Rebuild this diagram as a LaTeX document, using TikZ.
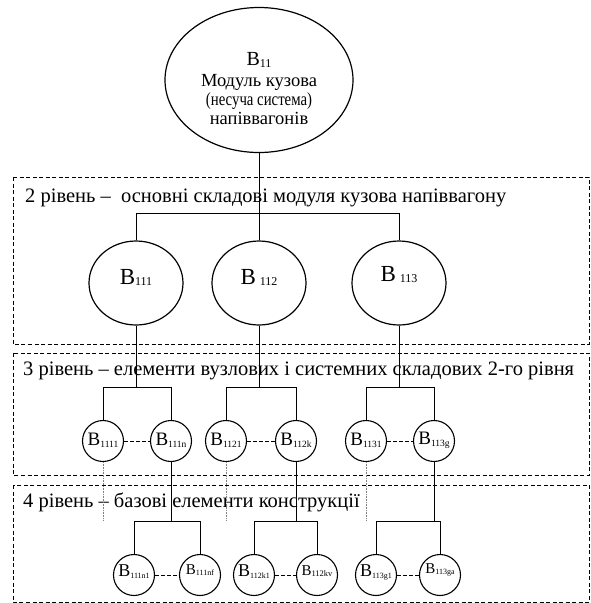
\documentclass[tikz,border=0pt]{standalone}
\usepackage{fontspec}
\usepackage{graphicx}
\setmainfont{Liberation Serif}
\usetikzlibrary{shapes.geometric}
\newcommand{\mylab}[4]{{\fontsize{#1}{#1}\selectfont B}\raisebox{#3}{\fontsize{#2}{#2}\selectfont #4}}
\begin{document}
\begin{tikzpicture}[x=1pt,y=-1pt,
 line/.style={line width=1pt},
 topell/.style={draw, line width=1.2pt, ellipse, minimum width=188pt, minimum height=145pt, inner sep=0pt},
 bigc/.style={draw, line width=1.2pt, ellipse, minimum width=94pt, minimum height=84pt, inner sep=0pt},
 smc/.style={draw, line width=1.1pt, circle, minimum size=41pt, inner sep=0pt},
 lvlbox/.style={draw, dash pattern=on 4pt off 2.5pt, line width=0.7pt},
 dashlink/.style={dash pattern=on 3.5pt off 2.5pt, line width=0.8pt},
 dotlink/.style={gray, dash pattern=on 0.8pt off 0.8pt, line width=0.8pt},
 lvltext/.style={anchor=base west, inner sep=0pt, font=\fontsize{20.5}{24}\selectfont},
 toptext/.style={anchor=base, inner sep=0pt, font=\fontsize{18.5}{22}\selectfont},
 clab/.style={inner sep=0pt},
]
\useasboundingbox (0,0) rectangle (591,603);

% level boxes
\draw[lvlbox] (13,177) rectangle (589,344);
\draw[lvlbox] (13,353) rectangle (589,475);
\draw[lvlbox] (13,485) rectangle (589,602);

\node[lvltext] (t2) at (25,202) {2 рівень –\ \ основні складові модуля кузова напіввагону};
\node[lvltext] (t3) at (23,375) {3 рівень – елементи вузлових і системних складових 2-го рівня};
\node[lvltext] (t4) at (23,507) {4 рівень – базові елементи конструкції};

% top ellipse
\node[topell] (top) at (259,80) {};
\node[toptext] (tl1) at (259,65) {\mylab{20}{12}{-2pt}{11}};
\node[toptext] (tl2) at (259,86) {Модуль кузова};
\node[toptext] (tl3) at (259,105) {\scalebox{0.8}[1]{(несуча система)}};
\node[toptext] (tl4) at (259,124) {напіввагонів};

% level 2
\node[bigc] (c2a) at (136,283) {};
\node[bigc] (c2b) at (259,283) {};
\node[bigc] (c2c) at (399,283) {};
\node[clab] (l2a) at ([yshift=6pt]c2a.center) {\mylab{23}{12}{-1pt}{111}};
\node[clab] (l2b) at ([yshift=6pt]c2b.center) {\mylab{23}{12}{-1pt}{\hspace{4pt}112}};
\node[clab] (l2c) at ([yshift=8pt]c2c.center) {\mylab{23}{12}{-1pt}{\hspace{4pt}113}};

% level 3
\node[smc] (c3a) at (103,441) {};
\node[smc] (c3b) at (171,441) {};
\node[smc] (c3c) at (226,441) {};
\node[smc] (c3d) at (296,441) {};
\node[smc] (c3e) at (366,441) {};
\node[smc] (c3f) at (434,441) {};
\node[clab] (l3a) at ([yshift=1pt]c3a.center) {\mylab{19}{9.5}{-2pt}{1111}};
\node[clab] (l3b) at ([yshift=1pt]c3b.center) {\mylab{19}{9.5}{-2pt}{111n}};
\node[clab] (l3c) at ([yshift=1pt]c3c.center) {\mylab{19}{9.5}{-2pt}{1121}};
\node[clab] (l3d) at ([yshift=1pt]c3d.center) {\mylab{19}{9.5}{-2pt}{112k}};
\node[clab] (l3e) at ([yshift=1pt]c3e.center) {\mylab{19}{9.5}{-2pt}{1131}};
\node[clab] (l3f) at ([yshift=1pt]c3f.center) {\mylab{19}{9.5}{-2pt}{113g}};

% level 4
\node[smc] (c4a) at (134,575) {};
\node[smc] (c4b) at (200,575) {};
\node[smc] (c4c) at (254,575) {};
\node[smc] (c4d) at (317,575) {};
\node[smc] (c4e) at (376,575) {};
\node[smc] (c4f) at (440,575) {};
\node[clab] (l4a) at ([yshift=3pt]c4a.center) {\mylab{18}{8}{-2pt}{111n1}};
\node[clab] (l4b) at ([yshift=5pt]c4b.center) {\mylab{15}{8}{-1pt}{111nf}};
\node[clab] (l4c) at ([yshift=3pt]c4c.center) {\mylab{18}{8}{-2pt}{112k1}};
\node[clab] (l4d) at ([yshift=4pt]c4d.center) {\mylab{15}{8.5}{-1.5pt}{112kv}};
\node[clab] (l4e) at ([yshift=3pt]c4e.center) {\mylab{18}{8}{-2pt}{113g1}};
\node[clab] (l4f) at ([yshift=5pt]c4f.center) {\mylab{15}{8}{-1pt}{113ga}};

% junction levels
\coordinate (j1) at (0,213);
\coordinate (j2) at (0,387);
\coordinate (j3) at (0,521);

% connectors level 1 -> 2
\draw[line] (top.south) -- (c2b.north);
\draw[line] (c2a.north) |- (c2c.north |- j1) -- (c2c.north);

% level 2 -> 3
\draw[line] (c2a.south) -- (c2a.south |- j2);
\draw[line] (c3a.north) |- (c3b.north |- j2) -- (c3b.north);
\draw[line] (c2b.south) -- (c2b.south |- j2);
\draw[line] (c3c.north) |- (c3d.north |- j2) -- (c3d.north);
\draw[line] (c2c.south) -- (c2c.south |- j2);
\draw[line] (c3e.north) |- (c3f.north |- j2) -- (c3f.north);

% level 3 -> 4
\draw[line] (c3b.south) -- (c3b.south |- j3);
\draw[line] (c4a.north) |- (c4b.north |- j3) -- (c4b.north);
\draw[line] (c3d.south) -- (c3d.south |- j3);
\draw[line] (c4c.north) |- (c4d.north |- j3) -- (c4d.north);
\draw[line] (c3f.south) -- (c3f.south |- j3);
\draw[line] (c4e.north) |- (c4f.north |- j3) -- (c4f.north);

% dotted continuations
\draw[dotlink] (c3a.south) -- (c3a.south |- j3);
\draw[dotlink] (c3c.south) -- (c3c.south |- j3);
\draw[dotlink] (c3e.south) -- (c3e.south |- j3);

% dashed links between siblings
\draw[dashlink] (c3a.east) -- (c3b.west);
\draw[dashlink] (c3c.east) -- (c3d.west);
\draw[dashlink] (c3e.east) -- (c3f.west);
\draw[dashlink] (c4a.east) -- (c4b.west);
\draw[dashlink] (c4c.east) -- (c4d.west);
\draw[dashlink] (c4e.east) -- (c4f.west);
\end{tikzpicture}
\end{document}
